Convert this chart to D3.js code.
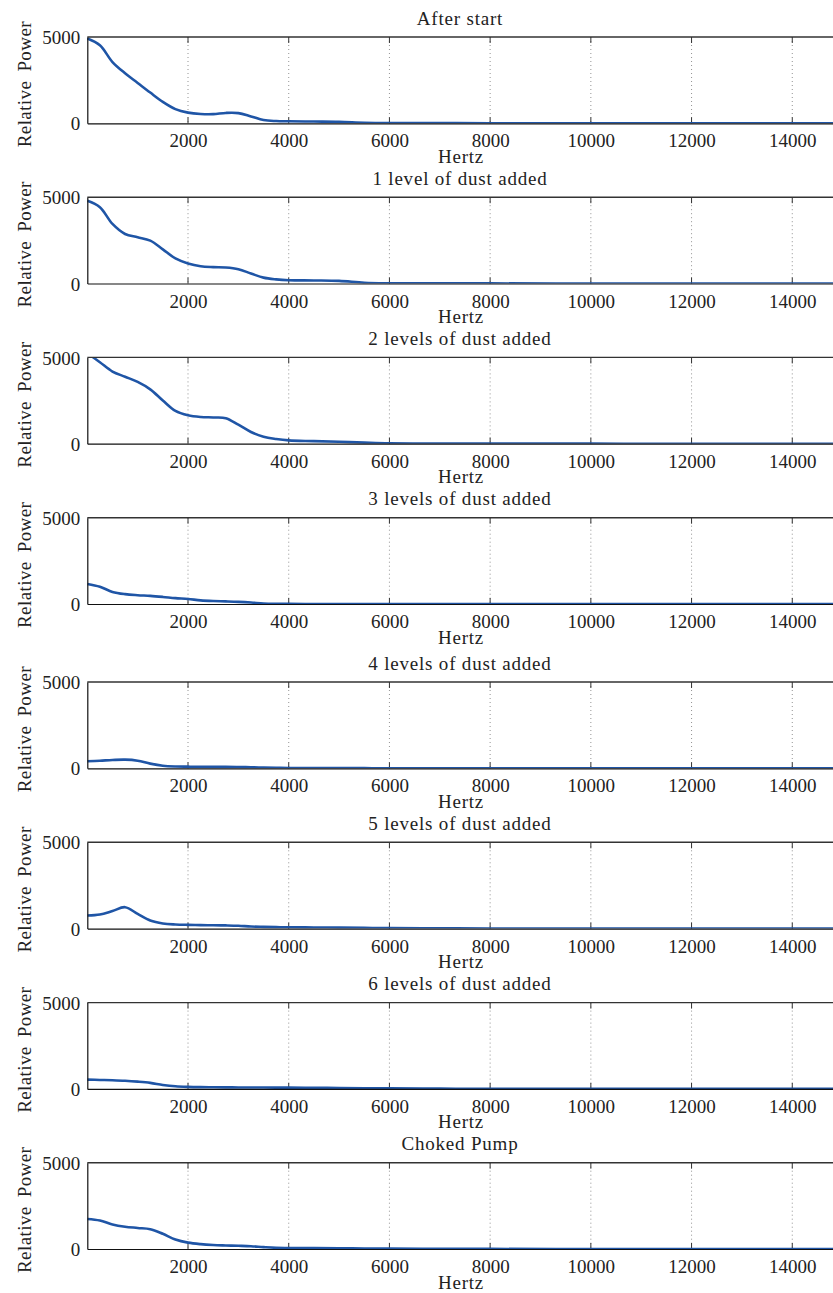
<!DOCTYPE html>
<html><head><meta charset="utf-8">
<script src="https://cdn.jsdelivr.net/npm/d3@7"></script>
<style>
html,body{margin:0;padding:0;background:#fff;}
svg{display:block;}
text{font-family:"Liberation Serif","Times New Roman",serif;fill:#222;}
</style></head>
<body>
<script>
// ---- data ----
const titles = ["After start","1 level of dust added","2 levels of dust added","3 levels of dust added",
  "4 levels of dust added","5 levels of dust added","6 levels of dust added","Choked Pump"];
const freq = [0,250,500,750,1000,1250,1500,1750,2000,2250,2500,2750,3000,3250,3500,3750,4000,4500,5000,5500,6000,7000,8000,10000,12000,15000];
const afterStart = [4920,4520,3550,2900,2340,1780,1240,820,620,540,530,600,590,400,190,130,115,100,85,35,15,10,5,2,0,0];
const dust1 = [4790,4420,3450,2870,2680,2480,1980,1450,1160,1000,950,930,830,580,340,240,190,175,150,45,15,10,5,2,0,0];
const dust2 = [5250,4720,4180,3880,3580,3150,2500,1900,1650,1550,1520,1480,1100,680,400,270,190,150,110,60,20,10,5,2,0,0];
const dust3 = [1160,1000,700,570,510,470,410,340,290,210,170,150,125,85,30,10,5,3,3,2,2,1,1,0,0,0];
const dust4 = [410,440,480,500,440,270,150,105,95,90,85,80,72,60,45,30,20,15,10,8,5,3,2,0,0,0];
const dust5 = [755,815,1020,1240,850,470,300,240,215,200,195,185,165,120,100,85,75,65,55,40,30,15,10,3,0,0];
const dust6 = [540,520,500,470,420,350,230,150,115,100,95,90,85,80,78,76,75,65,55,40,30,15,10,3,0,0];
const choked = [1740,1650,1420,1290,1220,1150,880,550,370,280,230,205,185,160,110,70,60,50,40,30,20,10,5,2,0,0];
const series = [afterStart,dust1,dust2,dust3,dust4,dust5,dust6,choked];
const xTicks = [2000,4000,6000,8000,10000,12000,14000];
const yTicks = [0,5000];
const xLabel = "Hertz";
const yLabel = "Relative Power";

// ---- layout ----
const W = 833, H = 1293;
const panelTops = [37,197.2,357.4,517.7,682,842.3,1002.6,1162.7];
const panelH = 86.3;
const left = 87.3;
const color = "#1f55a6";

const svg = d3.select("body").append("svg").attr("width",W).attr("height",H);
const x = d3.scaleLinear().domain([0,15000]).range([left, left + 100.71*7.5]);

series.forEach((vals,i)=>{
  const top = panelTops[i], bot = top + panelH;
  const y = d3.scaleLinear().domain([0,5000]).range([bot, top]);
  const g = svg.append("g");
  const clipId = "clip"+i;
  svg.append("clipPath").attr("id",clipId).append("rect")
     .attr("x",left).attr("y",top).attr("width",W-left).attr("height",panelH);

  // grid (dotted)
  g.selectAll("line.grid").data(xTicks).join("line")
    .attr("x1",d=>x(d)).attr("x2",d=>x(d)).attr("y1",top).attr("y2",bot)
    .attr("stroke","#777").attr("stroke-width",0.8).attr("stroke-dasharray","1,3");
  // inner ticks bottom and top
  g.selectAll("line.tb").data(xTicks).join("line")
    .attr("x1",d=>x(d)).attr("x2",d=>x(d)).attr("y1",bot).attr("y2",bot-6)
    .attr("stroke","#333").attr("stroke-width",1);
  g.selectAll("line.tt").data(xTicks).join("line").attr("class","tt")
    .attr("x1",d=>x(d)).attr("x2",d=>x(d)).attr("y1",top).attr("y2",top+6)
    .attr("stroke","#333").attr("stroke-width",1);

  // line
  const line = d3.line().x((d,j)=>x(freq[j])).y(d=>y(d)).curve(d3.curveCatmullRom.alpha(0.5));
  g.append("path").datum(vals).attr("d",line).attr("fill","none")
    .attr("stroke",color).attr("stroke-width",2.6).attr("clip-path",`url(#${clipId})`);

  // borders
  g.append("line").attr("x1",left).attr("x2",W).attr("y1",top).attr("y2",top)
    .attr("stroke","#333").attr("stroke-width",1.4);
  // bottom axis
  const xa = d3.axisBottom(x).tickValues(xTicks).tickSize(0).tickPadding(6).tickFormat(d3.format("d"));
  const ax = g.append("g").attr("transform",`translate(0,${bot})`).call(xa);
  ax.select(".domain").attr("stroke","#111").attr("stroke-width",1.2);
  ax.selectAll("text").attr("font-size",19).attr("fill","#222").attr("dy","0.95em")
    .style("font-family","'Liberation Serif',serif");
  // left axis
  const ya = d3.axisLeft(y).tickValues(yTicks).tickSize(0).tickPadding(7).tickFormat(d3.format("d"));
  const ay = g.append("g").attr("transform",`translate(${left},0)`).call(ya);
  ay.select(".domain").attr("stroke","#111").attr("stroke-width",1.2);
  ay.selectAll("text").attr("font-size",19).attr("fill","#222").attr("dy","0.35em")
    .style("font-family","'Liberation Serif',serif");

  // title
  g.append("text").attr("x",460).attr("y",top-12.5).attr("text-anchor","middle")
    .attr("font-size",19).attr("letter-spacing","0.8px").text(titles[i]);
  // x label
  g.append("text").attr("x",461).attr("y",bot+39.5).attr("text-anchor","middle")
    .attr("font-size",19).attr("letter-spacing","0.8px").text(xLabel);
  // y label
  g.append("text").attr("transform",`translate(31,${(top+bot)/2+4}) rotate(-90)`)
    .attr("text-anchor","middle").attr("font-size",19).attr("letter-spacing","0.4px")
    .attr("word-spacing","4px").text(yLabel);
});
</script>
</body></html>
